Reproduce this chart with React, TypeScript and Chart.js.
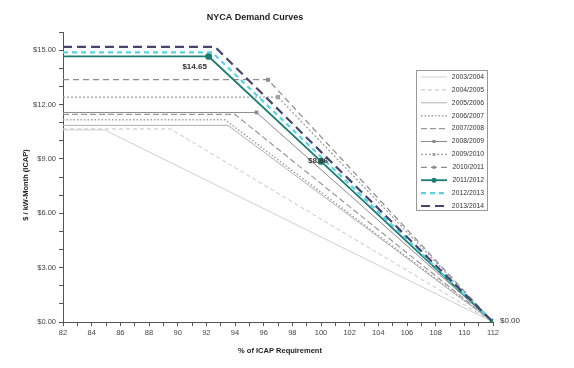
import React, { useEffect, useRef } from "react";
import { Chart, registerables } from "chart.js";

Chart.register(...registerables);

// ---- data ----
const years = [
  "2003/2004", "2004/2005", "2005/2006", "2006/2007", "2007/2008", "2008/2009",
  "2009/2010", "2010/2011", "2011/2012", "2012/2013", "2013/2014",
];
// maximum price ($/kW-month) on the flat part of each curve
const maxPrices = [10.6, 10.65, 10.85, 11.16, 11.45, 11.56, 12.41, 13.37, 14.65, 14.88, 15.18];
// % of ICAP requirement where the flat part ends
const kinkPcts = [84.9, 89.5, 93.5, 93.3, 94.0, 95.5, 97.0, 96.3, 92.16, 92.4, 92.6];
// value at 100% requirement (only for labelled 2011/2012 curve)
const refPct = 100;
const refPrice2011 = 8.86;
const startPct = 82;
const zeroPct = 112;
const xTicks = [82, 84, 86, 88, 90, 92, 94, 96, 98, 100, 102, 104, 106, 108, 110, 112];
const yTicks = [0, 3, 6, 9, 12, 15];

const styles = [
  { color: "#cfcfcf", width: 1, dash: [] as number[], marker: false },
  { color: "#c4c4c4", width: 1, dash: [4, 3], marker: false },
  { color: "#b0b0b0", width: 1, dash: [], marker: false },
  { color: "#a0a0a0", width: 1.5, dash: [1.5, 2], marker: false },
  { color: "#9a9a9a", width: 1.2, dash: [6, 3], marker: false },
  { color: "#8a8a8a", width: 1, dash: [], marker: true },
  { color: "#a0a0a0", width: 1.3, dash: [2, 2], marker: true },
  { color: "#8c8c8c", width: 1.2, dash: [6, 4], marker: true },
  { color: "#1e7d72", width: 1.8, dash: [], marker: true },
  { color: "#5ad2e2", width: 2.2, dash: [5, 4], marker: false },
  { color: "#45466e", width: 2.2, dash: [9, 5], marker: false },
];

const FONT = "'Liberation Sans', Arial, sans-serif";

export default function App() {
  const ref = useRef<HTMLCanvasElement | null>(null);
  useEffect(() => {
    document.body.style.margin = "0";
    const canvas = ref.current!;
    const datasets = years.map((yr, i) => {
      const pts: { x: number; y: number }[] = [
        { x: startPct, y: maxPrices[i] },
        { x: kinkPcts[i], y: maxPrices[i] },
      ];
      if (i === 8) pts.push({ x: refPct, y: refPrice2011 });
      pts.push({ x: zeroPct, y: 0 });
      const st = styles[i];
      const radii = pts.map((p, k) => {
        if (!st.marker) return 0;
        if (i === 8) return k === 0 ? 0 : 2.5;
        return k === 1 ? 2 : 0;
      });
      return {
        label: yr,
        data: pts,
        borderColor: st.color,
        backgroundColor: st.color,
        borderWidth: st.width,
        borderDash: st.dash,
        pointRadius: radii,
        pointStyle: i === 8 ? "circle" : "rect",
        tension: 0,
        fill: false,
        order: 11 - i,
      };
    });

    const overlay = {
      id: "overlay",
      afterDraw(chart: any) {
        const ctx = chart.ctx as CanvasRenderingContext2D;
        const xs = chart.scales.x;
        const ys = chart.scales.y;
        ctx.save();
        // title
        ctx.fillStyle = "#222";
        ctx.font = `bold 9px ${FONT}`;
        ctx.textAlign = "center";
        ctx.textBaseline = "middle";
        ctx.fillText("NYCA Demand Curves", 255, 18);
        // axis titles
        ctx.font = `bold 7.5px ${FONT}`;
        ctx.fillText("% of ICAP Requirement", 280, 351);
        ctx.save();
        ctx.translate(26, 185);
        ctx.rotate(-Math.PI / 2);
        ctx.fillText("$ / kW-Month (ICAP)", 0, 0);
        ctx.restore();
        // point labels
        ctx.font = `bold 8px ${FONT}`;
        ctx.fillStyle = "#333";
        ctx.textAlign = "center";
        ctx.fillText("$" + maxPrices[8].toFixed(2), xs.getPixelForValue(kinkPcts[8]) - 14, ys.getPixelForValue(maxPrices[8]) + 10);
        ctx.fillText("$" + refPrice2011.toFixed(2), xs.getPixelForValue(refPct) - 3, ys.getPixelForValue(refPrice2011) - 1);
        ctx.font = `8px ${FONT}`;
        ctx.textAlign = "left";
        ctx.fillText("$0.00", xs.getPixelForValue(zeroPct) + 7, ys.getPixelForValue(0) - 1);
        // legend
        const bx = 416.5, by = 70.5, bw = 71, bh = 140;
        ctx.fillStyle = "#fff";
        ctx.fillRect(bx, by, bw, bh);
        ctx.strokeStyle = "#999";
        ctx.lineWidth = 1;
        ctx.setLineDash([]);
        ctx.strokeRect(bx, by, bw, bh);
        ctx.font = `6.8px ${FONT}`;
        ctx.textAlign = "right";
        ctx.textBaseline = "middle";
        years.forEach((yr, i) => {
          const y = 77 + i * 12.9;
          const st = styles[i];
          ctx.strokeStyle = st.color;
          ctx.lineWidth = st.width;
          ctx.setLineDash(st.dash);
          ctx.beginPath();
          ctx.moveTo(421, y);
          ctx.lineTo(447, y);
          ctx.stroke();
          ctx.setLineDash([]);
          if (st.marker) {
            ctx.fillStyle = st.color;
            ctx.beginPath();
            if (i === 8) ctx.arc(434, y, 2.5, 0, Math.PI * 2);
            else ctx.rect(432.5, y - 1.5, 3, 3);
            ctx.fill();
          }
          ctx.fillStyle = "#333";
          ctx.fillText(yr, 484, y);
        });
        ctx.restore();
      },
    };

    const chart = new Chart(canvas, {
      type: "line",
      data: { datasets: datasets as any },
      options: {
        animation: false,
        responsive: false,
        devicePixelRatio: 1,
        layout: { padding: { top: 32, right: 81, bottom: 0, left: 0 } },
        plugins: { legend: { display: false }, tooltip: { enabled: false }, title: { display: false } },
        scales: {
          x: {
            type: "linear",
            min: startPct,
            max: zeroPct,
            afterFit: (s: any) => { s.height = 46; },
            afterBuildTicks: (s: any) => {
              const t = [];
              for (let v = startPct; v <= zeroPct; v++) t.push({ value: v });
              s.ticks = t;
            },
            border: { display: true, color: "#555", width: 1 },
            grid: { display: true, drawOnChartArea: false, drawTicks: true, tickLength: 4, color: "#555" },
            ticks: {
              autoSkip: false,
              maxRotation: 0,
              padding: 2,
              color: "#444",
              font: { family: FONT, size: 7.5 },
              callback: (v: any) => (xTicks.includes(Number(v)) ? String(v) : ""),
            },
          },
          y: {
            type: "linear",
            min: 0,
            max: 16,
            afterFit: (s: any) => { s.width = 63; },
            afterBuildTicks: (s: any) => {
              const t = [];
              for (let v = 0; v <= 16; v++) t.push({ value: v });
              s.ticks = t;
            },
            border: { display: true, color: "#555", width: 1 },
            grid: { display: true, drawOnChartArea: false, drawTicks: true, tickLength: 4, color: "#555" },
            ticks: {
              autoSkip: false,
              padding: 3,
              color: "#444",
              font: { family: FONT, size: 7.5 },
              callback: (v: any) => (yTicks.includes(Number(v)) ? "$" + Number(v).toFixed(2) : ""),
            },
          },
        },
      },
      plugins: [overlay],
    });
    return () => chart.destroy();
  }, []);
  return (
    <div style={{ position: "absolute", left: 0, top: 0, width: 574, height: 368, background: "#fff" }}>
      <canvas ref={ref} width={574} height={368} style={{ width: 574, height: 368 }} />
    </div>
  );
}
